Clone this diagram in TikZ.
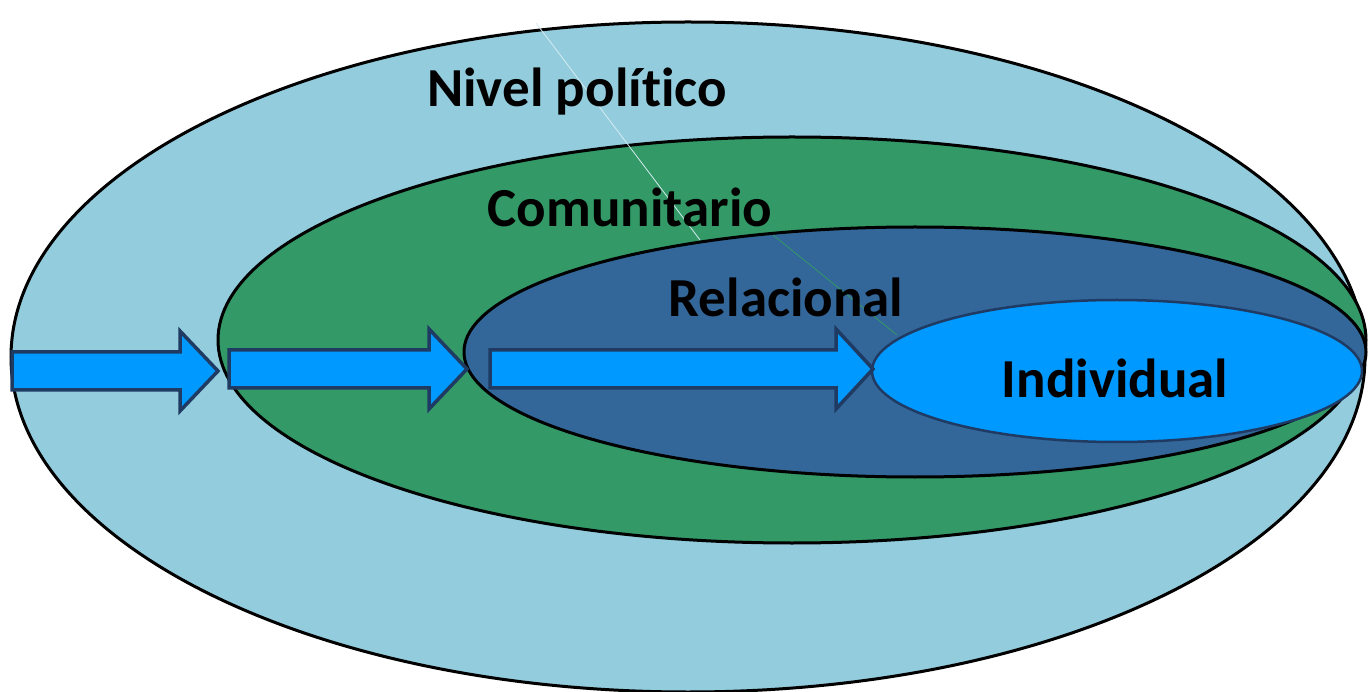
\documentclass[tikz,border=0pt]{standalone}
\usepackage{fontspec}
\setmainfont{Carlito}[Ligatures=NoCommon]
\definecolor{celesteclaro}{HTML}{93CDDD}
\definecolor{verde}{HTML}{339966}
\definecolor{azul}{HTML}{336699}
\definecolor{celeste}{HTML}{0099FF}
\definecolor{marino}{HTML}{1F3B63}
\tikzset{
  nivel/.style={draw=black, line width=3pt},
  rotulo/.style={font=\fontsize{55}{66}\selectfont\bfseries, anchor=base, inner sep=0pt},
  flechabloque/.style={draw=marino, fill=celeste, line width=3.5pt, line join=miter},
}
% block arrow: tail x, head base x, tip x, middle y
\newcommand{\flecha}[4]{%
  \draw[flechabloque] (#1,#4-19) -- (#2,#4-19) -- (#2,#4-40) -- (#3,#4)
    -- (#2,#4+40) -- (#2,#4+19) -- (#1,#4+19) -- cycle;}
\begin{document}
\begin{tikzpicture}[x=1pt, y=-1pt]
    \useasboundingbox (0,0) rectangle (1368,692);

    % Centres of the levels
    \coordinate (politico) at (688,357);
    \coordinate (comunitario) at (792,340);
    \coordinate (relacional) at (915,352);
    \coordinate (individual) at (1117,371);

    % Levels
    \draw[nivel, fill=celesteclaro] (politico) ellipse [x radius=677, y radius=335];
    \draw[nivel, fill=verde] (comunitario) ellipse [x radius=574, y radius=203];
    \draw[nivel, fill=azul] (relacional) ellipse [x radius=451, y radius=125];
    \draw[draw=marino, line width=2.5pt, fill=celeste] (individual) ellipse [x radius=245, y radius=71];

    % Faint seams
    \draw[line width=0.8pt, white!60!celesteclaro] (536,23) -- (700,240);
    \draw[line width=0.8pt, verde] (773,235) -- (897,335);

    % Arrows
    \flecha{12}{180}{218}{371}
    \flecha{229}{429}{467}{369}
    \flecha{490}{836}{873}{369}

    % Labels
    \node[rotulo] (lpolitico) at (577,107) {Nivel político};
    \node[rotulo] (lcomunitario) at (630,227) {Comunitario};
    \node[rotulo] (lrelacional) at (786,317) {Relacional};
    \node[rotulo] (lindividual) at (1115,398) {Individual};
\end{tikzpicture}
\end{document}
